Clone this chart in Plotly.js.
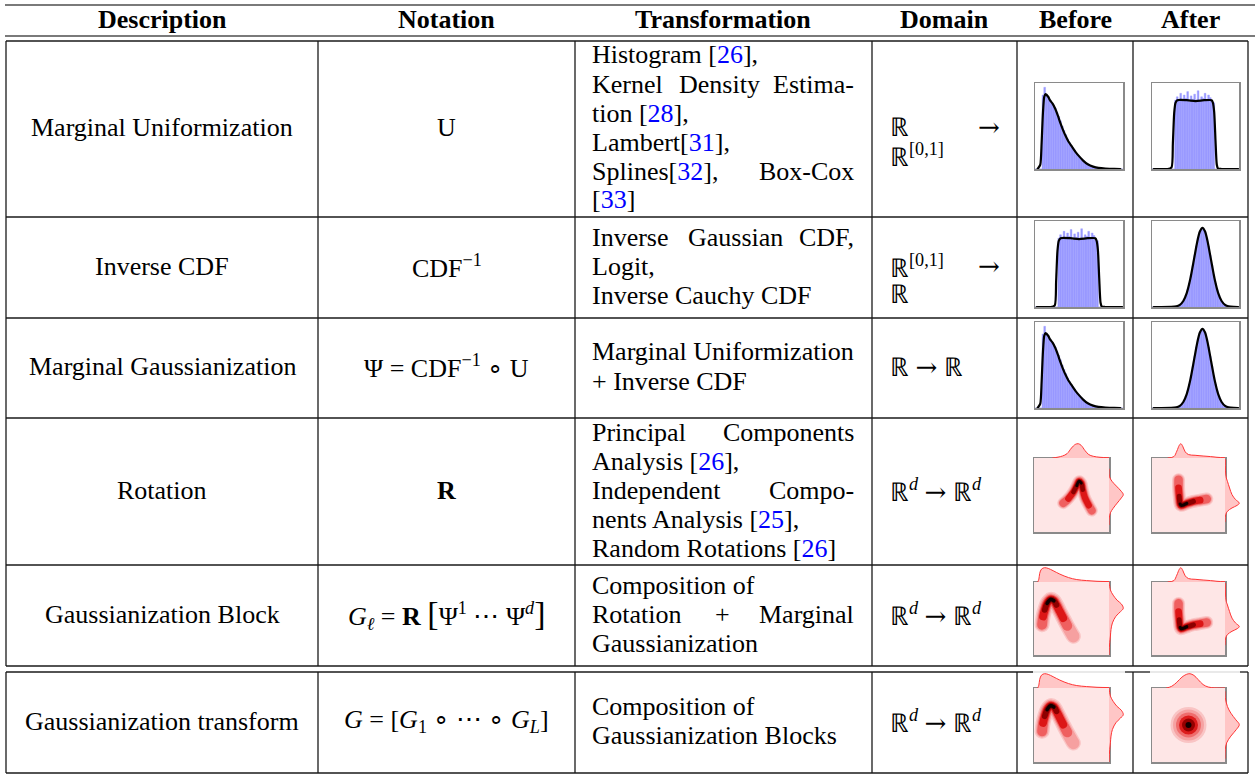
<!DOCTYPE html>
<html>
<head>
<meta charset="utf-8">
<script src="https://cdn.plot.ly/plotly-3.0.1.min.js"></script>
<style>body{margin:0;background:#fff}</style>
</head>
<body>
<div id="chart" style="width:1255px;height:776px"></div>
<script>
//Table text
var headers = ["Description", "Notation", "Transformation", "Domain", "Before", "After"];
var descriptions = ["Marginal Uniformization", "Inverse CDF", "Marginal Gaussianization",
    "Rotation", "Gaussianization Block", "Gaussianization transform"];
var notations = [
    "U",
    "CDF<sup>−1</sup>",
    "Ψ = CDF<sup>−1</sup> ∘ U",
    "<b>R</b>",
    "<i>G</i><sub><i>ℓ</i></sub> = <b>R</b> <span style='font-size:34px'>[</span>Ψ<sup>1</sup> ⋯ Ψ<sup><i>d</i></sup><span style='font-size:34px'>]</span>",
    "<i>G</i> = [<i>G</i><sub>1</sub> ∘ ⋯ ∘ <i>G</i><sub><i>L</i></sub>]"
];
var transformLines = [
    ["Histogram [26],", "Kernel Density Estima-", "tion [28],", "Lambert[31],", "Splines[32], Box-Cox", "[33]"],
    ["Inverse Gaussian CDF,", "Logit,", "Inverse Cauchy CDF"],
    ["Marginal Uniformization", "+ Inverse CDF"],
    ["Principal Components", "Analysis [26],", "Independent Compo-", "nents Analysis [25],", "Random Rotations [26]"],
    ["Composition of", "Rotation + Marginal", "Gaussianization"],
    ["Composition of", "Gaussianization Blocks"]
];
var transformJustify = [
    [false, true, false, false, true, false],
    [true, false, false],
    [false, false],
    [true, false, true, false, false],
    [false, true, false],
    [false, false]
];
var domainLines = [
    ["ℝ →", "ℝ<sup>[0,1]</sup>"],
    ["ℝ<sup>[0,1]</sup> →", "ℝ"],
    ["ℝ → ℝ"],
    ["ℝ<sup><i>d</i></sup> → ℝ<sup><i>d</i></sup>"],
    ["ℝ<sup><i>d</i></sup> → ℝ<sup><i>d</i></sup>"],
    ["ℝ<sup><i>d</i></sup> → ℝ<sup><i>d</i></sup>"]
];
var domainJustify = [[true, false], [true, false], [false], [false], [false], [false]];

//1D histograms: 50 bins over the box width, plus the density curve
var skewBars = [0, 0, 0, 0, 0.86, 0.95, 0.87, 0.84, 0.80, 0.77,
    0.74, 0.71, 0.66, 0.61, 0.56, 0.50, 0.45, 0.40, 0.35, 0.31,
    0.28, 0.25, 0.22, 0.18, 0.16, 0.14, 0.12, 0.10, 0.08, 0.065,
    0.05, 0.04, 0.03, 0.025, 0.02, 0.015, 0.012, 0.01, 0.008, 0.006,
    0.005, 0.004, 0.003, 0.002, 0.002, 0.001, 0, 0, 0, 0];
var skewKdeX = [0.03, 0.06, 0.075, 0.09, 0.105, 0.12, 0.15, 0.17, 0.20, 0.23, 0.26, 0.29, 0.32, 0.35,
    0.38, 0.42, 0.46, 0.50, 0.55, 0.60, 0.66, 0.72, 0.80, 0.90, 0.97];
var skewKdeY = [0, 0.05, 0.30, 0.65, 0.84, 0.87, 0.84, 0.80, 0.76, 0.70, 0.62, 0.53, 0.45, 0.38,
    0.32, 0.26, 0.20, 0.15, 0.095, 0.055, 0.028, 0.013, 0.005, 0.002, 0];

var unifBars = [0, 0, 0, 0, 0, 0, 0, 0, 0, 0,
    0, 0, 0, 0.80, 0.84, 0.79, 0.88, 0.80, 0.86, 0.82,
    0.90, 0.78, 0.85, 0.81, 0.87, 0.80, 0.91, 0.79, 0.84, 0.82,
    0.88, 0.80, 0.86, 0.83, 0.79, 0.77, 0, 0, 0, 0,
    0, 0, 0, 0, 0, 0, 0, 0, 0, 0];
var unifKdeX = [0.02, 0.18, 0.225, 0.24, 0.255, 0.27, 0.29, 0.40, 0.50, 0.60, 0.685, 0.70, 0.715,
    0.73, 0.745, 0.76, 0.80, 0.99];
var unifKdeY = [0, 0, 0.02, 0.30, 0.65, 0.77, 0.80, 0.80, 0.79, 0.80, 0.80, 0.77, 0.66,
    0.33, 0.05, 0.005, 0, 0];

var gaussBars = [0, 0, 0, 0, 0, 0, 0, 0, 0, 0,
    0, 0, 0, 0, 0.01, 0.02, 0.033, 0.055, 0.09, 0.135,
    0.20, 0.28, 0.37, 0.48, 0.60, 0.71, 0.80, 0.87, 0.91, 0.915,
    0.875, 0.80, 0.71, 0.60, 0.485, 0.375, 0.28, 0.20, 0.135, 0.088,
    0.055, 0.033, 0.02, 0.01, 0, 0, 0, 0, 0, 0];
var gaussKdeX = [0.02, 0.22, 0.28, 0.32, 0.36, 0.40, 0.44, 0.48, 0.52, 0.55, 0.58, 0.61, 0.64,
    0.68, 0.72, 0.76, 0.80, 0.84, 0.88, 0.94, 0.99];
var gaussKdeY = [0, 0.001, 0.008, 0.025, 0.07, 0.165, 0.325, 0.54, 0.76, 0.877, 0.92, 0.877, 0.76,
    0.54, 0.325, 0.165, 0.07, 0.025, 0.008, 0.001, 0];

//2D densities: ridge of the density (x, y) with its darkness, and the two marginals
var ridgeAX = [0.39, 0.457, 0.525, 0.57, 0.60, 0.63, 0.65, 0.68, 0.73, 0.77];
var ridgeAY = [0.39, 0.45, 0.54, 0.626, 0.685, 0.66, 0.57, 0.46, 0.36, 0.29];
var ridgeAW = [0.3, 0.6, 0.85, 1.0, 1.0, 0.95, 0.85, 0.65, 0.45, 0.3];
var topAX = [0.25, 0.32, 0.38, 0.44, 0.50, 0.55, 0.59, 0.63, 0.68, 0.73, 0.79, 0.88, 1.0];
var topAH = [0, 0.06, 0.14, 0.30, 0.70, 0.95, 1.0, 0.88, 0.52, 0.24, 0.12, 0.05, 0.02];
var rightAY = [0.85, 0.75, 0.685, 0.62, 0.55, 0.505, 0.46, 0.39, 0.32, 0.26, 0.19, 0.10];
var rightAW = [0, 0.03, 0.21, 0.52, 0.86, 1.0, 0.86, 0.57, 0.29, 0.10, 0.02, 0];

var ridgeBX = [0.364, 0.364, 0.373, 0.386, 0.40, 0.477, 0.568, 0.66, 0.75];
var ridgeBY = [0.707, 0.595, 0.482, 0.378, 0.36, 0.387, 0.414, 0.43, 0.446];
var ridgeBW = [0.3, 0.6, 0.85, 1.0, 1.0, 0.9, 0.7, 0.5, 0.3];
var topBX = [0.22, 0.30, 0.34, 0.375, 0.395, 0.42, 0.455, 0.50, 0.59, 0.70, 0.80, 0.89, 1.0];
var topBH = [0, 0.10, 0.48, 0.90, 1.0, 0.83, 0.43, 0.24, 0.19, 0.14, 0.10, 0.05, 0.02];
var rightBY = [0.98, 0.75, 0.685, 0.595, 0.505, 0.44, 0.39, 0.36, 0.325, 0.28, 0.234, 0.14];
var rightBW = [0.02, 0.07, 0.17, 0.32, 0.49, 0.73, 1.0, 0.85, 0.49, 0.17, 0.05, 0];

var ridgeCX = [0.108, 0.121, 0.143, 0.175, 0.22, 0.265, 0.30, 0.345, 0.39, 0.444, 0.50, 0.525];
var ridgeCY = [0.414, 0.527, 0.617, 0.707, 0.761, 0.743, 0.685, 0.595, 0.505, 0.40, 0.30, 0.257];
var ridgeCW = [0.35, 0.6, 0.8, 1.0, 1.0, 1.0, 0.85, 0.6, 0.45, 0.3, 0.2, 0.15];
var topCX = [0.05, 0.065, 0.076, 0.10, 0.14, 0.19, 0.255, 0.345, 0.46, 0.57, 0.70, 0.84, 1.0];
var topCH = [0, 0.2, 0.6, 0.9, 1.0, 0.95, 0.79, 0.55, 0.31, 0.17, 0.10, 0.05, 0.03];
var rightCY = [1.0, 0.98, 0.89, 0.82, 0.75, 0.70, 0.64, 0.595, 0.53, 0.44, 0.35, 0.26, 0.17, 0.0];
var rightCW = [0, 0.02, 0.10, 0.29, 0.57, 0.86, 1.0, 0.81, 0.48, 0.24, 0.14, 0.10, 0.05, 0];

var blobDX = [0.50];
var blobDY = [0.50];
var topDX = [0.20, 0.27, 0.34, 0.41, 0.47, 0.52, 0.575, 0.63, 0.70, 0.77, 0.86, 1.0];
var topDH = [0, 0.12, 0.40, 0.76, 0.95, 1.0, 0.88, 0.60, 0.24, 0.07, 0.01, 0];
var rightDY = [0.95, 0.87, 0.75, 0.66, 0.57, 0.505, 0.44, 0.35, 0.26, 0.17, 0.05];
var rightDW = [0, 0.02, 0.17, 0.41, 0.76, 1.0, 0.80, 0.41, 0.12, 0.02, 0];

var hists = {
    skew: {bars: skewBars, kx: skewKdeX, ky: skewKdeY},
    unif: {bars: unifBars, kx: unifKdeX, ky: unifKdeY},
    gauss: {bars: gaussBars, kx: gaussKdeX, ky: gaussKdeY}
};
var dens = {
    A: {rx: ridgeAX, ry: ridgeAY, rw: ridgeAW, w: 12, tx: topAX, th: topAH, ry2: rightAY, rw2: rightAW},
    B: {rx: ridgeBX, ry: ridgeBY, rw: ridgeBW, w: 13, tx: topBX, th: topBH, ry2: rightBY, rw2: rightBW},
    C: {rx: ridgeCX, ry: ridgeCY, rw: ridgeCW, w: 15, tx: topCX, th: topCH, ry2: rightCY, rw2: rightCW},
    D: {bx: blobDX, by: blobDY, tx: topDX, th: topDH, ry2: rightDY, rw2: rightDW}
};
var histRows = [["skew", "unif"], ["unif", "gauss"], ["skew", "gauss"]];
var densRows = [["A", "B"], ["C", "B"], ["C", "D"]];

//Layout geometry (pixels)
var W = 1255, H = 776;
var colEdges = [6, 318, 575, 872, 1017, 1133, 1248];
var rowTop = [41, 217, 318, 418, 565, 672];
var rowBot = [217, 318, 418, 565, 666, 773];
var FONT = "'Liberation Serif', 'Times New Roman', serif";
var FS = 26;
var ARROW = "<span style=\"font-family:'DejaVu Serif'\">→</span>";

function fx(p){ return p / W; }
function fy(p){ return 1 - p / H; }

var layout = {
    width: W, height: H,
    margin: {l: 0, r: 0, t: 0, b: 0},
    paper_bgcolor: "#fff", plot_bgcolor: "rgba(0,0,0,0)",
    showlegend: false, bargap: 0,
    shapes: [], annotations: []
};
var traces = [];

//Table rules
function hline(y, x0, x1, color, width){
    layout.shapes.push({type: "line", xref: "paper", yref: "paper", x0: fx(x0), x1: fx(x1), y0: fy(y), y1: fy(y),
        line: {color: color, width: width}});
}
function vline(x, y0, y1){
    layout.shapes.push({type: "line", xref: "paper", yref: "paper", x0: fx(x), x1: fx(x), y0: fy(y0), y1: fy(y1),
        line: {color: "#1a1a1a", width: 1.3}});
}
hline(5, 5, 1255, "#7a7a7a", 2);
hline(36, 5, 1255, "#7a7a7a", 2);
for (var r = 0; r < 5; r++) hline(rowTop[r], 6, 1248, "#1a1a1a", 1.3);
hline(666, 6, 1248, "#1a1a1a", 1.3);
hline(672, 6, 1033, "#1a1a1a", 1.3);
hline(672, 1033, 1125, "#e2e2e2", 1.3);
hline(672, 1125, 1150, "#1a1a1a", 1.3);
hline(672, 1150, 1240, "#e2e2e2", 1.3);
hline(672, 1240, 1248, "#1a1a1a", 1.3);
hline(773, 6, 1248, "#1a1a1a", 1.3);
colEdges.forEach(function(x){ vline(x, 41, 666); vline(x, 672, 773); });

//Text
var ctx = document.createElement("canvas").getContext("2d");
ctx.font = FS + "px 'Liberation Serif'";
function textW(s){ return ctx.measureText(s.replace(/<[^>]+>/g, "")).width; }
function cite(s){
    return s.replace(/\[(\d+)\]/g, "[<span style='color:#0000ff'>$1</span>]").replace(/→/g, ARROW);
}
function note(x, y, s, anchor){
    layout.annotations.push({xref: "paper", yref: "paper", x: fx(x), y: fy(y), text: s, showarrow: false,
        xanchor: anchor, yanchor: "middle", font: {family: FONT, size: FS, color: "#000"}});
}
function justifyLine(line, left, right, y, justify){
    var words = line.split(" ");
    if (!justify || words.length < 2){ note(left, y, cite(line), "left"); return; }
    var widths = words.map(textW);
    var total = widths.reduce(function(a, b){ return a + b; }, 0);
    var gap = (right - left - total) / (words.length - 1);
    var x = left;
    for (var i = 0; i < words.length; i++){
        if (i == words.length - 1) note(right, y, cite(words[i]), "right");
        else note(x, y, cite(words[i]), "left");
        x += widths[i] + gap;
    }
}

for (var c = 0; c < headers.length; c++){
    note((colEdges[c] + colEdges[c + 1]) / 2, 19, "<b>" + headers[c] + "</b>", "center");
}
for (var r = 0; r < 6; r++){
    var mid = (rowTop[r] + rowBot[r]) / 2 - 1.5;
    note((colEdges[0] + colEdges[1]) / 2, mid, descriptions[r], "center");
    note((colEdges[1] + colEdges[2]) / 2, mid, notations[r], "center");
    var lines = transformLines[r];
    var y0 = mid - (lines.length - 1) * 29 / 2;
    for (var i = 0; i < lines.length; i++){
        justifyLine(lines[i], 590, 856, y0 + i * 29, transformJustify[r][i]);
    }
    var dl = domainLines[r];
    for (var i = 0; i < dl.length; i++){
        justifyLine(dl[i], 888, 1002, mid + i * 28, domainJustify[r][i]);
    }
}

//Small plots
var nAx = 0;
function addAxes(x0, x1, y0, y1, xr, yr, framed){
    nAx++;
    var s = nAx === 1 ? "" : String(nAx);
    var base = {showgrid: false, zeroline: false, showticklabels: false, ticks: "", fixedrange: true};
    var xa = Object.assign({}, base, {domain: [fx(x0), fx(x1)], range: xr, anchor: "y" + s});
    var ya = Object.assign({}, base, {domain: [fy(y1), fy(y0)], range: yr, anchor: "x" + s});
    if (framed){
        [xa, ya].forEach(function(a){ a.showline = true; a.mirror = true; a.linecolor = "#8a8a8a"; a.linewidth = 1.5; });
    } else {
        xa.visible = false; ya.visible = false;
    }
    layout["xaxis" + s] = xa;
    layout["yaxis" + s] = ya;
    return {x: "x" + s, y: "y" + s};
}

var histX = [[1035, 1123], [1152, 1239]];
var histY = [[83, 169], [221, 307], [322, 408]];
for (var r = 0; r < 3; r++){
    for (var c = 0; c < 2; c++){
        var h = hists[histRows[r][c]];
        var ax = addAxes(histX[c][0], histX[c][1], histY[r][0], histY[r][1], [0, 1], [0, 1], true);
        traces.push({type: "bar", x0: 0.01, dx: 0.02, width: 0.02, y: h.bars, xaxis: ax.x, yaxis: ax.y,
            marker: {color: "#9a9aff", line: {width: 0.4, color: "#9a9aff"}}, hoverinfo: "skip"});
        traces.push({type: "scatter", mode: "lines", x: h.kx, y: h.ky, xaxis: ax.x, yaxis: ax.y,
            line: {color: "#000", width: 2.2, shape: "spline", smoothing: 0.6}, hoverinfo: "skip"});
    }
}

//Soft stroke built from nested lines, lighter and wider outside
var ridgeLayers = [
    {t: 0.0, f: 1.00, c: "#fac6c6"},
    {t: 0.0, f: 0.82, c: "#f6a0a0"},
    {t: 0.25, f: 0.66, c: "#ef6060"},
    {t: 0.45, f: 0.52, c: "#dc1616"},
    {t: 0.7, f: 0.38, c: "#8c0000"},
    {t: 0.9, f: 0.24, c: "#100000"}
];
var blobLayers = [
    {s: 36, c: "#f9c4c4"}, {s: 31, c: "#f5a2a2"}, {s: 25, c: "#ef6c6c"},
    {s: 19, c: "#dc1c1c"}, {s: 13, c: "#960000"}, {s: 6, c: "#140000"}
];
var densX = [[1034, 1109], [1152, 1225]];
var densY = [[458, 532], [582, 655], [688, 762]];
var MS = 15;
for (var r = 0; r < 3; r++){
    for (var c = 0; c < 2; c++){
        var d = dens[densRows[r][c]];
        var bx = densX[c], by = densY[r];
        var ax = addAxes(bx[0], bx[1], by[0], by[1], [0, 1], [0, 1], true);
        layout.shapes.push({type: "rect", xref: ax.x, yref: ax.y, x0: 0, x1: 1, y0: 0, y1: 1, layer: "below",
            fillcolor: "#fee6e6", line: {width: 0}});
        if (d.rx){
            ridgeLayers.forEach(function(L){
                var xs = [], ys = [];
                for (var i = 0; i < d.rx.length; i++) if (d.rw[i] >= L.t){ xs.push(d.rx[i]); ys.push(d.ry[i]); }
                if (xs.length < 2) return;
                traces.push({type: "scatter", mode: "lines", x: xs, y: ys, xaxis: ax.x, yaxis: ax.y,
                    line: {color: L.c, width: d.w * L.f, shape: "spline", smoothing: 1}, hoverinfo: "skip"});
            });
        } else {
            blobLayers.forEach(function(L){
                traces.push({type: "scatter", mode: "markers", x: d.bx, y: d.by, xaxis: ax.x, yaxis: ax.y,
                    marker: {color: L.c, size: L.s, line: {width: 0}}, hoverinfo: "skip"});
            });
        }
        var axT = addAxes(bx[0], bx[1], by[0] - MS, by[0], [0, 1], [0, 1.05], false);
        traces.push({type: "scatter", mode: "lines", x: d.tx, y: d.th, xaxis: axT.x, yaxis: axT.y, fill: "tozeroy",
            fillcolor: "#ffc6c6", line: {color: "#ff3535", width: 1, shape: "spline"}, hoverinfo: "skip"});
        var axR = addAxes(bx[1], bx[1] + MS, by[0], by[1], [0, 1.05], [0, 1], false);
        traces.push({type: "scatter", mode: "lines", x: d.rw2, y: d.ry2, xaxis: axR.x, yaxis: axR.y, fill: "tozerox",
            fillcolor: "#ffc6c6", line: {color: "#ff3535", width: 1, shape: "spline"}, hoverinfo: "skip"});
    }
}

Plotly.newPlot("chart", traces, layout, {displayModeBar: false, staticPlot: true}).then(function(){
    document.querySelectorAll(".scatterlayer .js-line").forEach(function(p){
        p.style.strokeLinecap = "round";
        p.style.strokeLinejoin = "round";
    });
});
</script>
</body>
</html>
